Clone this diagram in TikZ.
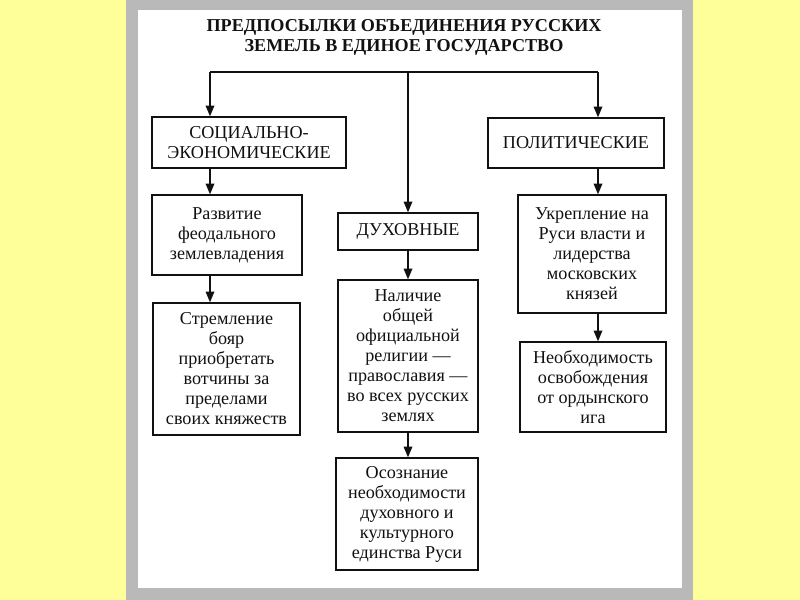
\documentclass[tikz,border=0pt]{standalone}
\usepackage{fontspec}
\setmainfont{Liberation Serif}
\usepackage{tikz}
\usetikzlibrary{arrows.meta, positioning, calc}
\usepackage{xcolor}
\definecolor{pageYellow}{HTML}{FFFF99}
\definecolor{frameGray} {HTML}{B9B9B9}
\definecolor{inkDark}   {HTML}{111111}

\tikzset{
  box/.style={draw=inkDark, line width=1.1pt, fill=white, align=center,
              inner sep=2pt, font=\fontsize{13.6}{15}\selectfont, text=inkDark},
  arr/.style={-{Triangle[length=8pt, width=6.5pt]}, line width=0.9pt, draw=inkDark},
  link/.style={line width=0.9pt, draw=inkDark}
}

\begin{document}
\begin{tikzpicture}[x=0.75pt, y=-0.75pt]
    % page and scanned sheet
    \useasboundingbox (0,0) rectangle (800,600);
    \fill[pageYellow] (0,0) rectangle (800,600);
    \fill[frameGray] (126,0) rectangle (693,600);
    \fill[white] (138,10) rectangle (682,588);

    \node[align=center, text=inkDark, font=\fontsize{13.6}{15}\selectfont\bfseries]
      (title) at (404,37) {ПРЕДПОСЫЛКИ ОБЪЕДИНЕНИЯ РУССКИХ\\ЗЕМЕЛЬ В ЕДИНОЕ ГОСУДАРСТВО};

    % three branches
    \node[box, minimum width=194*0.75pt, minimum height=51*0.75pt] (soc) at (249,142.5)
      {СОЦИАЛЬНО-\\ЭКОНОМИЧЕСКИЕ};
    \node[box, minimum width=176*0.75pt, minimum height=50*0.75pt] (pol) at (576,143)
      {ПОЛИТИЧЕСКИЕ};
    \node[box, minimum width=140*0.75pt, minimum height=37*0.75pt] (duh) at (408,231.5)
      {ДУХОВНЫЕ};

    % left column
    \node[box, minimum width=150*0.75pt, minimum height=80*0.75pt] (razv) at (227,235)
      {Развитие\\феодального\\землевладения};
    \node[box, minimum width=147*0.75pt, minimum height=132*0.75pt] (strem) at (226.5,369)
      {Стремление\\бояр\\приобретать\\вотчины за\\пределами\\своих княжеств};

    % middle column
    \node[box, minimum width=140*0.75pt, minimum height=152*0.75pt] (nal) at (408,356)
      {Наличие\\общей\\официальной\\религии ---\\православия ---\\во всех русских\\землях};
    \node[box, minimum width=142*0.75pt, minimum height=112*0.75pt] (osoz) at (407,514)
      {Осознание\\необходимости\\духовного и\\культурного\\единства Руси};

    % right column
    \node[box, minimum width=148*0.75pt, minimum height=118*0.75pt] (ukr) at (592,254)
      {Укрепление на\\Руси власти и\\лидерства\\московских\\князей};
    \node[box, minimum width=146*0.75pt, minimum height=90*0.75pt] (neob) at (593,387)
      {Необходимость\\освобождения\\от ордынского\\ига};

    % connectors
    \coordinate (hl) at (210,72);
    \coordinate (hm) at (408,72);
    \coordinate (hr) at (598,72);
    \draw[link] (hl) -- (hr);
    \draw[arr] (hl) -- (soc.north -| hl);
    \draw[arr] (hr) -- (pol.north -| hr);
    \draw[arr] (hm) -- (duh.north -| hm);

    \draw[arr] (soc.south -| hl) -- (razv.north -| hl);
    \draw[arr] (razv.south -| hl) -- (strem.north -| hl);
    \draw[arr] (duh.south -| hm) -- (nal.north -| hm);
    \draw[arr] (nal.south -| hm) -- (osoz.north -| hm);
    \draw[arr] (pol.south -| hr) -- (ukr.north -| hr);
    \draw[arr] (ukr.south -| hr) -- (neob.north -| hr);
\end{tikzpicture}
\end{document}
